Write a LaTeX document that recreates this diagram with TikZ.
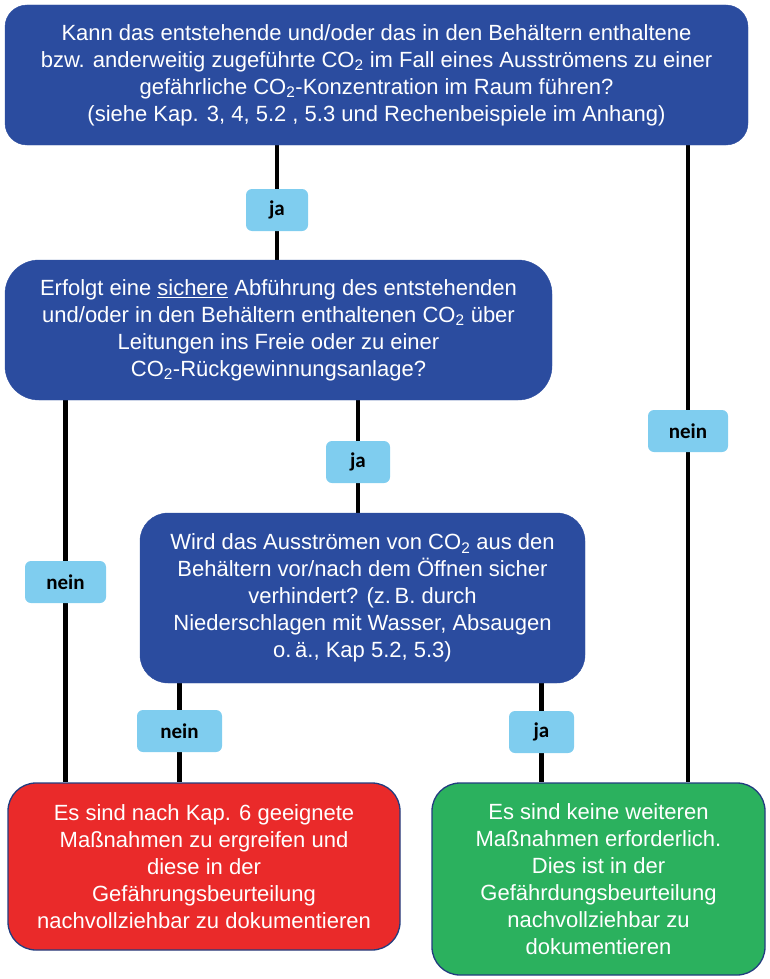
\documentclass[tikz,border=0pt]{standalone}
\usepackage{fontspec}
\setmainfont{Liberation Sans}
\newfontfamily\tagfont{Carlito}
\usetikzlibrary{backgrounds}

\definecolor{qblue}{HTML}{2B4C9F}
\definecolor{tagblue}{HTML}{7FCDEF}
\definecolor{resred}{HTML}{EA2A2A}
\definecolor{resgreen}{HTML}{2BB15E}

\tikzset{
  question/.style={rounded corners=28pt, fill=qblue, draw=qblue, text=white,
    align=center, inner sep=0pt, font=\fontsize{22}{27}\selectfont},
  result/.style={question, draw=qblue!80!black, line width=1.3pt},
  answer/.style={rounded corners=6pt, fill=tagblue, inner sep=0pt,
    minimum height=42pt, font=\tagfont\bfseries\fontsize{21}{24}\selectfont},
  conn/.style={line width=4.5pt, black}
}

\begin{document}
\begin{tikzpicture}[x=1pt, y=-1pt]
  \useasboundingbox (0,0) rectangle (769,979);

  % questions
  \node[question, rounded corners=22pt, minimum width=743pt, minimum height=140pt] (q1) at (376.5,75)
    {Kann das entstehende und/oder das in den Behältern enthaltene\\
     bzw. anderweitig zugeführte CO\textsubscript{2} im Fall eines Ausströmens zu einer\\
     gefährliche CO\textsubscript{2}-Konzentration im Raum führen?\\
     (siehe Kap. 3, 4, 5.2 , 5.3 und Rechenbeispiele im Anhang)};
  \node[question, rounded corners=34pt, minimum width=547pt, minimum height=140pt] (q2) at (278.5,330)
    {Erfolgt eine \underline{sichere} Abführung des entstehenden\\
     und/oder in den Behältern enthaltenen CO\textsubscript{2} über\\
     Leitungen ins Freie oder zu einer\\
     CO\textsubscript{2}-Rückgewinnungsanlage?};
  \node[question, minimum width=445pt, minimum height=170pt] (q3) at (362.5,598)
    {Wird das Ausströmen von CO\textsubscript{2} aus den\\
     Behältern vor/nach dem Öffnen sicher\\
     verhindert? (z.\,B. durch\\
     Niederschlagen mit Wasser, Absaugen\\
     o.\,ä., Kap 5.2, 5.3)};

  % results
  \node[result, fill=resred, minimum width=392pt, minimum height=167pt] (r1) at (204,866.5)
    {Es sind nach Kap. 6 geeignete\\
     Maßnahmen zu ergreifen und\\
     diese in der\\
     Gefährungsbeurteilung\\
     nachvollziehbar zu dokumentieren};
  \node[result, fill=resgreen, minimum width=333pt, minimum height=192pt] (r2) at (598.5,879)
    {Es sind keine weiteren\\
     Maßnahmen erforderlich.\\
     Dies ist in der\\
     Gefährdungsbeurteilung\\
     nachvollziehbar zu\\
     dokumentieren};

  % answers
  \node[answer, minimum width=62pt] (ja1) at (277,210) {ja};
  \node[answer, minimum width=80pt] (nein1) at (688,431) {nein};
  \node[answer, minimum width=64pt] (ja2) at (358,462) {ja};
  \node[answer, minimum width=81pt] (nein2) at (65.5,582) {nein};
  \node[answer, minimum width=85pt] (nein3) at (179.5,731) {nein};
  \node[answer, minimum width=65pt] (ja3) at (541.5,732) {ja};

  % connectors
  \begin{scope}[on background layer]
    \draw[conn] (q1.south -| ja1) -- (q2.north -| ja1);
    \draw[conn] (q1.south -| nein1) -- (r2.north -| nein1);
    \draw[conn] (q2.south -| ja2) -- (q3.north -| ja2);
    \draw[conn] (q2.south -| nein2) -- (r1.north -| nein2);
    \draw[conn] (q3.south -| nein3) -- (r1.north -| nein3);
    \draw[conn] (q3.south -| ja3) -- (r2.north -| ja3);
  \end{scope}
\end{tikzpicture}
\end{document}
